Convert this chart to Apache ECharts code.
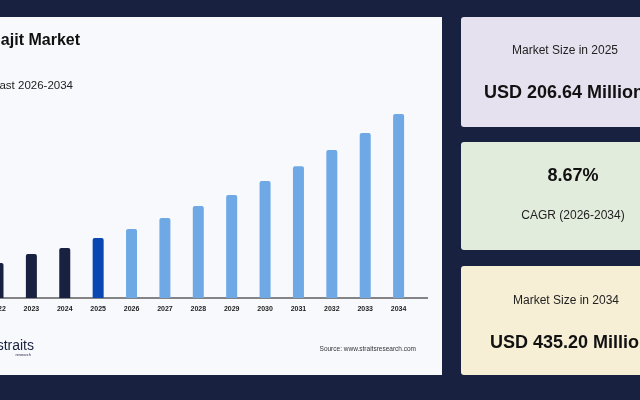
<!DOCTYPE html>
<html><head><meta charset="utf-8">
<script src="https://cdn.jsdelivr.net/npm/echarts@6/dist/echarts.min.js"></script>
<style>html,body{margin:0;padding:0;background:#18213f}#c{width:640px;height:400px}</style>
</head><body><div id="c"></div>
<script>
const years = ['2022','2023','2024','2025','2026','2027','2028','2029','2030','2031','2032','2033','2034'];
const values = [160.5,177,188,206.64,223,243.5,265.6,286,311.6,339,368.8,400,435.2];
const barColors = ['#18213f','#18213f','#18213f','#0a47b3','#6ea9e6','#6ea9e6','#6ea9e6','#6ea9e6','#6ea9e6','#6ea9e6','#6ea9e6','#6ea9e6','#6ea9e6'];
const F = 'Liberation Sans, Arial, sans-serif';
const chart = echarts.init(document.getElementById('c'));
chart.setOption({
  backgroundColor:'#18213f',
  animation:false,
  graphic:[
    {type:'rect',z:-10,shape:{x:0,y:17,width:442,height:358},style:{fill:'#f8f9fd'}},
    {type:'rect',z:-10,shape:{x:461,y:17,width:190,height:110,r:3},style:{fill:'#e5e1ef'}},
    {type:'rect',z:-10,shape:{x:461,y:142,width:190,height:108,r:3},style:{fill:'#e2ecdc'}},
    {type:'rect',z:-10,shape:{x:461,y:266,width:190,height:109,r:3},style:{fill:'#f6efd6'}},
    {type:'line',shape:{x1:0,y1:298,x2:428,y2:298},style:{stroke:'#111',lineWidth:1.2}},
    {type:'text',style:{x:80,y:41,text:'Shilajit Market',align:'right',verticalAlign:'middle',font:'bold 16px '+F,fill:'#111'}},
    {type:'text',style:{x:73,y:86,text:'Forecast 2026-2034',align:'right',verticalAlign:'middle',font:'11.5px '+F,fill:'#222'}},
    {type:'text',style:{x:34,y:346,text:'straits',align:'right',verticalAlign:'middle',font:'14px '+F,fill:'#18213f'}},
    {type:'text',style:{x:31,y:355,text:'research',align:'right',verticalAlign:'middle',font:'4px '+F,fill:'#18213f'}},
    {type:'text',style:{x:416,y:349,text:'Source: www.straitsresearch.com',align:'right',verticalAlign:'middle',font:'6.5px '+F,fill:'#333'}},
    {type:'text',style:{x:565,y:51,text:'Market Size in 2025',align:'center',verticalAlign:'middle',font:'12px '+F,fill:'#222'}},
    {type:'text',style:{x:484,y:93,text:'USD 206.64 Million',align:'left',verticalAlign:'middle',font:'bold 18px '+F,fill:'#111'}},
    {type:'text',style:{x:573,y:176,text:'8.67%',align:'center',verticalAlign:'middle',font:'bold 18px '+F,fill:'#111'}},
    {type:'text',style:{x:573,y:216,text:'CAGR (2026-2034)',align:'center',verticalAlign:'middle',font:'12px '+F,fill:'#222'}},
    {type:'text',style:{x:566,y:301,text:'Market Size in 2034',align:'center',verticalAlign:'middle',font:'12px '+F,fill:'#222'}},
    {type:'text',style:{x:490,y:343,text:'USD 435.20 Million',align:'left',verticalAlign:'middle',font:'bold 18px '+F,fill:'#111'}}
  ],
  grid:{left:-18.7,width:434,top:114,bottom:102,outerBoundsMode:'none',containLabel:false},
  xAxis:{type:'category',data:years,axisLine:{show:false},axisTick:{show:false},
    axisLabel:{margin:8,fontSize:7,fontWeight:'bold',color:'#222',fontFamily:F}},
  yAxis:{type:'value',min:96,max:435.2,show:false,splitLine:{show:false}},
  series:[{type:'bar',barWidth:11,data:values.map((v,i)=>({value:v,itemStyle:{color:barColors[i],borderRadius:[2,2,0,0]}}))}]
});
</script></body></html>
